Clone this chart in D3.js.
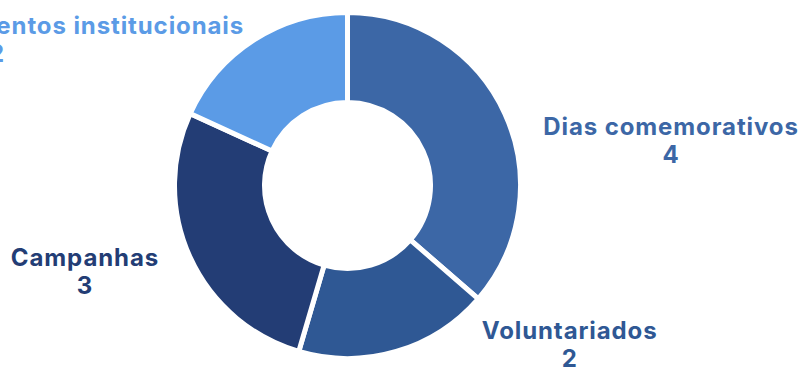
<!DOCTYPE html>
<html>
<head>
<meta charset="utf-8">
<script src="https://cdn.jsdelivr.net/npm/d3@7"></script>
<style>
  html, body { margin: 0; padding: 0; background: #fff; overflow: hidden; }
  .lbl { font-family: Inter, "Noto Sans", sans-serif; font-weight: 700; font-size: 24px; letter-spacing: 0.9px; }
</style>
</head>
<body>
<svg id="chart"></svg>
<script>
// data
const categories = ["Dias comemorativos", "Voluntariados", "Campanhas", "Eventos institucionais"];
const values = [4, 2, 3, 2];
const colors = ["#3c67a6", "#2f5894", "#233d75", "#5b9be6"];

// label layout tweaks (dx, dy from outer edge centroid), value line x shift
const labelNudge = [[168, 21], [174, -11], [-107, 9], [-150, -8]];
const valueShift = [0, 0, 0, -108];

const W = 804, H = 367;
const cx = 347.5, cy = 185.5;
const R = 173, r = 83;

const svg = d3.select("#chart").attr("width", W).attr("height", H);
const g = svg.append("g").attr("transform", `translate(${cx},${cy})`);

const data = categories.map((c, i) => ({ name: c, value: values[i], color: colors[i] }));

const pie = d3.pie().value(d => d.value).sort(null);
const arc = d3.arc().innerRadius(r).outerRadius(R);
const edge = d3.arc().innerRadius(R - 2).outerRadius(R - 2);

const arcs = pie(data);

g.selectAll("path.slice")
  .data(arcs)
  .enter().append("path")
  .attr("class", "slice")
  .attr("d", arc)
  .attr("fill", d => d.data.color)
  .attr("stroke", "#fff")
  .attr("stroke-width", 5);

// labels
const lg = g.selectAll("g.lbl")
  .data(arcs)
  .enter().append("g")
  .attr("class", "lbl")
  .attr("transform", (d, i) => {
    const [x, y] = edge.centroid(d);
    return `translate(${x + labelNudge[i][0]},${y + labelNudge[i][1]})`;
  })
  .attr("fill", d => d.data.color);

lg.append("text")
  .attr("text-anchor", "middle")
  .attr("x", 0).attr("y", 0)
  .text(d => d.data.name);

lg.append("text")
  .attr("text-anchor", "middle")
  .attr("x", (d, i) => valueShift[i]).attr("y", 28)
  .text(d => d.data.value);
</script>
</body>
</html>
